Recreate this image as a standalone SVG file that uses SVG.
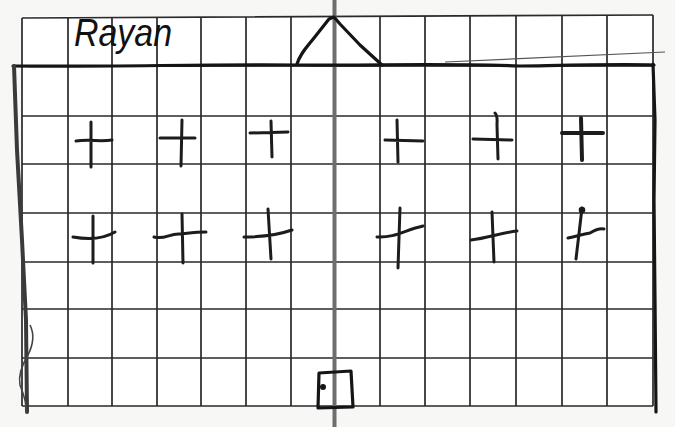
<svg xmlns="http://www.w3.org/2000/svg" width="675" height="427" viewBox="0 0 675 427">
<style>
.grid{stroke:#2a2a2a;stroke-width:1.7;fill:none}
.ink{stroke:#151515;stroke-width:3.2;fill:none;stroke-linecap:round;stroke-linejoin:round}
.cross{stroke:#1c1c1c;stroke-width:3;fill:none;stroke-linecap:round;stroke-linejoin:round}
.pencil{stroke:#555;stroke-width:1.2;fill:none}
</style>
<rect width="675" height="427" fill="#f7f7f5"/>
<rect x="22" y="16" width="631" height="390" fill="#ffffff"/>
<g id="grid" class="grid">
<path d="M22 18 L653 15 M22 66 H653 M22 116 H653 M22 164 H653 M22 213 H653 M22 262 H653 M22 309 H653 M22 358 H653 M22 406 H653"/>
<path d="M22 18 V406 M68 18 V406 M112 18 V406 M157 18 V406 M201 17 V406 M246 17 V406 M291 17 V406 M380 16 V406 M425 16 V406 M470 16 V406 M516 16 V406 M562 15 V406 M607 15 V406 M653 15 V406"/>
</g>
<line id="center-line" x1="334.5" y1="0" x2="334.5" y2="427" stroke="#6e6e6e" stroke-width="4"/>
<g id="frame">
<path class="ink" d="M13 66 C120 67 200 64 300 65 C380 66 420 63 520 66 C580 65 620 64 654 65"/>
<path class="ink" d="M297 64 C300 54 306 48 314 38 L329 19 L334 17 L340 24 L360 45 L382 65"/>
<path class="ink" d="M653 64 L655 120 L654 200 L655 300 L656 412"/>
<path d="M14 66 L17 150 L22 240 L26 320 L27 412" stroke="#3a3a3a" stroke-width="4" fill="none" stroke-linecap="round"/>
<path d="M30 325 C35 335 33 345 28 355 C22 365 18 375 20 385 C24 395 27 405 26 412" stroke="#444" stroke-width="1.6" fill="none"/>
<path class="pencil" d="M445 62 L665 52"/>
</g>
<g id="name">
<text x="74" y="46" font-family="Liberation Sans, sans-serif" font-style="italic" font-size="38" fill="#111" textLength="98" lengthAdjust="spacingAndGlyphs">Rayan</text>
</g>
<g id="crosses" class="cross">
<path d="M91 122 V167 M76 141 C90 139 100 142 112 140"/>
<path d="M182 120 L181 166 M160 138 H195"/>
<path d="M271 121 L272 157 M250 133 L288 132"/>
<path d="M397 120 L398 162 M385 140 L423 141"/>
<path d="M495 113 C498 116 497 120 497 125 L498 159 M473 139 L512 140"/>
<path d="M581 118 L582 160 M562 133 H603" stroke-width="4"/>
<path d="M93 216 V263 M73 237 C90 240 105 238 115 232"/>
<path d="M182 214 L183 263 M154 237 C165 240 170 233 180 234 C190 233 198 232 206 232"/>
<path d="M268 209 L271 259 M244 237 C260 237 275 236 292 230"/>
<path d="M400 208 L398 268 M377 237 C395 238 405 230 423 226"/>
<path d="M492 212 L494 262 M471 240 C488 238 500 233 517 231"/>
<path d="M582 208 L576 259 M568 238 C578 236 582 234 590 233 C595 230 600 228 604 229"/>
<circle cx="582" cy="210" r="1.8" fill="#1c1c1c"/>
</g>
<g id="box">
<path class="ink" d="M319 373 L351 371 L353 407 L318 408 Z"/>
<circle cx="323" cy="387" r="3" fill="#151515"/>
</g>
</svg>
